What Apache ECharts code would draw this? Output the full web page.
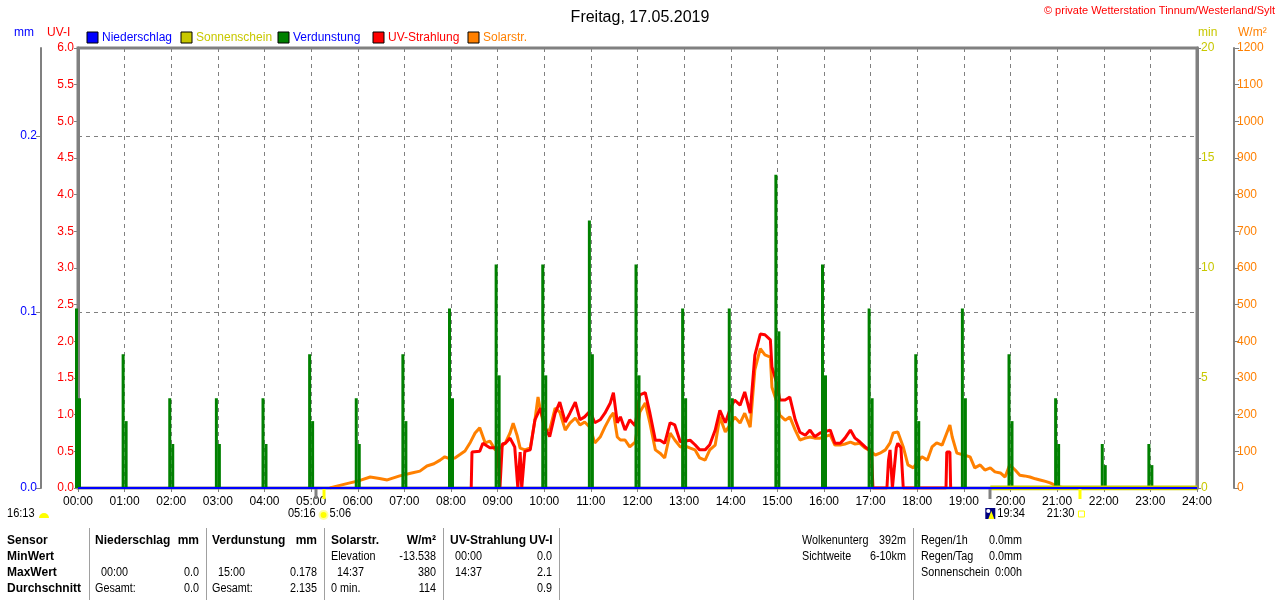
<!DOCTYPE html>
<html lang="de">
<head>
<meta charset="UTF-8">
<title>Wetterstation Tinnum - 17.05.2019</title>
<script src="https://cdn.jsdelivr.net/npm/echarts@6/dist/echarts.min.js"></script>
<style>html,body{margin:0;padding:0;background:#fff;}</style>
</head>
<body>
<div id="main" style="width:1280px;height:600px;"></div>
<script type="text/javascript">
// Daten (Zeit in Minuten seit 00:00)
var hourLabels = ['00:00','01:00','02:00','03:00','04:00','05:00','06:00','07:00','08:00','09:00','10:00','11:00',
    '12:00','13:00','14:00','15:00','16:00','17:00','18:00','19:00','20:00','21:00','22:00','23:00','24:00'];

var evapTimes = [0,60,120,180,240,300,360,420,480,540,600,660,720,780,840,900,960,1020,1080,1140,1200,1260,1320,1380];
// Verdunstung mm je Stunde
var evapMain = [0.102,0.076,0.051,0.051,0.051,0.076,0.051,0.076,0.102,0.127,0.127,0.152,
    0.127,0.102,0.102,0.178,0.127,0.102,0.076,0.102,0.076,0.051,0.025,0.025];
var evapHalf = [0.051,0.038,0.025,0.025,0.025,0.038,0.025,0.038,0.051,0.064,0.064,0.076,
    0.064,0.051,0.051,0.089,0.064,0.051,0.038,0.051,0.038,0.025,0.013,0.013];

// Solarstrahlung W/m2
var solarData = [[324,0],[333,5],[350,14],[362,20],[376,30],[388,26],[398,22],[414,33],[428,40],[440,46],
    [449,60],[458,66],[466,76],[472,85],[478,80],[485,82],[492,92],[498,101],[505,125],[511,150],[517,164],
    [524,123],[530,128],[537,104],[543,109],[550,123],[556,150],[560,177],[565,144],[569,109],[575,104],
    [582,109],[588,185],[592,248],[595,213],[601,158],[607,158],[614,218],[620,207],[627,158],[633,177],
    [640,191],[646,172],[652,180],[659,165],[665,123],[672,139],[678,166],[685,194],[689,205],[694,139],
    [698,131],[704,131],[710,112],[717,125],[723,207],[730,232],[736,177],[743,104],[749,95],[755,82],
    [762,150],[768,131],[775,112],[781,115],[788,109],[794,104],[800,82],[807,76],[813,104],[820,117],
    [826,194],[833,153],[840,175],[845,194],[852,177],[858,204],[865,166],[871,322],[878,380],[884,363],
    [891,357],[893,275],[900,230],[903,199],[910,185],[916,194],[923,158],[929,131],[936,136],[942,139],
    [948,136],[955,136],[961,140],[968,145],[974,117],[981,117],[987,120],[994,125],[1000,120],[1006,122],
    [1013,109],[1020,100],[1026,90],[1032,95],[1039,104],[1045,123],[1049,150],[1055,153],[1062,112],
    [1068,63],[1075,55],[1080,70],[1086,85],[1093,76],[1099,112],[1105,123],[1112,117],[1118,150],
    [1122,172],[1125,139],[1131,95],[1140,90],[1148,85],[1154,55],[1161,63],[1167,49],[1174,55],[1180,44],
    [1187,41],[1193,30],[1199,63],[1206,49],[1212,35],[1218,33],[1225,30],[1232,25],[1238,22],[1245,18],
    [1251,14],[1257,8],[1264,3],[1270,0]];

// UV-Strahlung UV-I
var uvData = [[506,0],[507,0.49],[517,0.5],[521,0.61],[530,0.55],[540,0.55],[543,0],[546,0.6],[550,0.61],
    [556,0.68],[562,0.56],[566,0],[569,0.49],[571,0],[575,0.5],[582,0.52],[588,0.93],[595,1.09],[601,0.82],
    [607,0.7],[614,1.02],[620,1.17],[627,0.9],[633,1.02],[640,1.17],[646,0.93],[652,0.97],[659,1.05],
    [665,0.89],[672,0.93],[678,1.02],[685,1.16],[689,1.3],[694,0.89],[698,0.97],[704,0.79],[710,0.93],
    [717,0.85],[723,1.27],[730,1.3],[736,1.02],[743,0.65],[749,0.65],[755,0.61],[762,0.89],[768,0.86],
    [775,0.63],[788,0.65],[794,0.59],[800,0.52],[807,0.52],[813,0.59],[820,0.79],[826,1.06],[833,0.89],
    [840,1.1],[845,1.2],[852,1.13],[858,1.31],[865,1.02],[871,1.81],[878,2.1],[884,2.09],[891,2.02],
    [893,1.65],[900,1.4],[903,1.2],[910,1.2],[916,1.24],[923,0.93],[929,0.76],[936,0.72],[942,0.79],
    [948,0.7],[955,0.75],[968,0.79],[974,0.61],[981,0.61],[987,0.68],[994,0.79],[1000,0.68],[1006,0.63],
    [1013,0.56],[1021,0.5],[1023,0],[1041,0],[1043,0.38],[1045,0.52],[1048,0],[1050,0],[1053,0.55],
    [1055,0.61],[1059,0.55],[1062,0],[1117,0],[1118,0.49],[1122,0.49],[1123,0]];

var rainData = [[0,0],[1440,0]];
var sunData = [[1174,0],[1440,0]];

// Sonnenauf-/untergang
var sunMarks = [
    {m: 306, color: '#808080'},
    {m: 316, color: '#ffff00'},
    {m: 1174, color: '#808080'},
    {m: 1290, color: '#ffff00'}
];

var legendNames = ['Niederschlag','Sonnenschein','Verdunstung','UV-Strahlung','Solarstr.'];
var legendColors = ['#0000ff','#c8c800','#008000','#ff0000','#ff8000'];
var legendTextColors = ['#0000ff','#c8c800','#0000ff','#ff0000','#ff8000'];

// Tabelle unten: [x, y, text, align, bold]
var tableCells = [
    [7,541,'Sensor','left',1],[95,541,'Niederschlag','left',1],[199,541,'mm','right',1],
    [212,541,'Verdunstung','left',1],[317,541,'mm','right',1],[331,541,'Solarstr.','left',1],
    [436,541,'W/m²','right',1],[450,541,'UV-Strahlung UV-I','left',1],
    [7,557,'MinWert','left',1],[331,557,'Elevation','left',0],[436,557,'-13.538','right',0],
    [455,557,'00:00','left',0],[552,557,'0.0','right',0],
    [7,573,'MaxWert','left',1],[101,573,'00:00','left',0],[199,573,'0.0','right',0],
    [218,573,'15:00','left',0],[317,573,'0.178','right',0],[337,573,'14:37','left',0],
    [436,573,'380','right',0],[455,573,'14:37','left',0],[552,573,'2.1','right',0],
    [7,589,'Durchschnitt','left',1],[95,589,'Gesamt:','left',0],[199,589,'0.0','right',0],
    [212,589,'Gesamt:','left',0],[317,589,'2.135','right',0],[331,589,'0 min.','left',0],
    [436,589,'114','right',0],[552,589,'0.9','right',0],
    [802,541,'Wolkenunterg','left',0],[906,541,'392m','right',0],
    [802,557,'Sichtweite','left',0],[906,557,'6-10km','right',0],
    [921,541,'Regen/1h','left',0],[1022,541,'0.0mm','right',0],
    [921,557,'Regen/Tag','left',0],[1022,557,'0.0mm','right',0],
    [921,573,'Sonnenschein','left',0],[1022,573,'0:00h','right',0]
];
var tableSeps = [89,206,324,443,559,913];

var FONT = '"Liberation Sans", Arial, sans-serif';
var LBL = 11;

var myChart = echarts.init(document.getElementById('main'));

var option = {
    animation: false,
    backgroundColor: '#ffffff',
    title: {
        text: 'Freitag, 17.05.2019',
        left: 'center',
        top: 5,
        textStyle: {fontSize: 16, fontWeight: 'normal', color: '#000', fontFamily: FONT}
    },
    grid: {
        left: 78, right: 83, top: 48, bottom: 112,
        show: true, borderColor: '#808080', borderWidth: 3, backgroundColor: '#fff'
    },
    xAxis: {
        type: 'value', min: 0, max: 1440, interval: 60,
        axisLine: {show: false},
        axisTick: {show: true, length: 4, lineStyle: {color: '#808080'}},
        axisLabel: {
            color: '#000', fontSize: 12, fontFamily: FONT, margin: 8,
            formatter: function (v) { return hourLabels[Math.round(v / 60)]; }
        },
        splitLine: {show: true, lineStyle: {color: '#808080', type: [4, 4], width: 1}}
    },
    yAxis: [
        {   // UV-I
            type: 'value', position: 'left', min: 0, max: 6, interval: 0.5,
            axisLine: {show: true, lineStyle: {color: '#808080', width: 3}},
            axisTick: {show: true, length: 4, lineStyle: {color: '#808080'}},
            axisLabel: {color: '#ff0000', fontSize: LBL + 1, fontFamily: FONT, margin: 4,
                formatter: function (v) { return v.toFixed(1); }},
            splitLine: {show: false}
        },
        {   // mm
            type: 'value', position: 'left', offset: 37, min: 0, max: 0.25, interval: 0.1,
            axisLine: {show: true, lineStyle: {color: '#808080', width: 2}},
            axisTick: {show: true, length: 5, lineStyle: {color: '#808080'}},
            axisLabel: {color: '#0000ff', fontSize: LBL + 1, fontFamily: FONT, margin: 4, showMaxLabel: false,
                formatter: function (v) { return v.toFixed(1); }},
            splitLine: {show: true, lineStyle: {color: '#808080', type: [4, 4], width: 1}}
        },
        {   // min
            type: 'value', position: 'right', min: 0, max: 20, interval: 5,
            axisLine: {show: true, lineStyle: {color: '#808080', width: 3}},
            axisTick: {show: true, length: 4, lineStyle: {color: '#808080'}},
            axisLabel: {color: '#c8c800', fontSize: LBL + 1, fontFamily: FONT, margin: 4},
            splitLine: {show: false}
        },
        {   // W/m2
            type: 'value', position: 'right', offset: 37, min: 0, max: 1200, interval: 100,
            axisLine: {show: true, lineStyle: {color: '#808080', width: 2}},
            axisTick: {show: true, length: 5, lineStyle: {color: '#808080'}},
            axisLabel: {color: '#ff8000', fontSize: LBL + 1, fontFamily: FONT, margin: 3,
                formatter: function (v) { return String(v); }},
            splitLine: {show: false}
        }
    ],
    series: [
        {
            name: 'Solarstr.', type: 'line', yAxisIndex: 3, data: solarData,
            symbol: 'none', lineStyle: {color: '#ff8000', width: 3}, z: 2
        },
        {
            name: 'UV-Strahlung', type: 'line', yAxisIndex: 0, data: uvData,
            symbol: 'none', lineStyle: {color: '#ff0000', width: 3}, z: 3
        },
        {
            name: 'Verdunstung', type: 'bar', yAxisIndex: 1, barWidth: 3, barGap: '0%',
            data: evapTimes.map(function (m, i) { return [m, evapMain[i]]; }),
            itemStyle: {color: '#008000'}, z: 4
        },
        {
            name: 'Verdunstung ½', type: 'bar', yAxisIndex: 1, barWidth: 3, barGap: '0%',
            data: evapTimes.map(function (m, i) { return [m, evapHalf[i]]; }),
            itemStyle: {color: '#008000'}, z: 4
        },
        {
            name: 'Sonnenschein', type: 'line', yAxisIndex: 2, data: sunData,
            symbol: 'none', lineStyle: {color: '#c8c800', width: 5}, z: 5
        },
        {
            name: 'Niederschlag', type: 'line', yAxisIndex: 1, data: rainData,
            symbol: 'none', lineStyle: {color: '#0000ff', width: 2}, z: 6
        }
    ]
};

myChart.setOption(option);

// Zusatzelemente: Legende, Achsentitel, Marker, Tabelle
var g = [];
function txt(x, y, s, color, align, font, sx) {
    g.push({type: 'text', z: 100, x: x, y: y, scaleX: sx || 1,
        style: {x: 0, y: 0, text: s, fill: color || '#000',
        font: font || ('12px ' + FONT), textAlign: align || 'left', textVerticalAlign: 'middle'}});
}
function line(x1, y1, x2, y2, color, w) {
    g.push({type: 'line', z: 100, shape: {x1: x1, y1: y1, x2: x2, y2: y2},
        style: {stroke: color, lineWidth: w || 1}});
}

txt(1275, 11, '© private Wetterstation Tinnum/Westerland/Sylt', '#ff0000', 'right', '11px ' + FONT);
txt(14, 33, 'mm', '#0000ff');
txt(47, 33, 'UV-I', '#ff0000');
txt(1198, 33, 'min', '#c8c800');
txt(1238, 33, 'W/m²', '#ff8000');

var legendX = [87, 181, 278, 373, 468];
legendNames.forEach(function (n, i) {
    g.push({type: 'rect', z: 100, shape: {x: legendX[i], y: 32, width: 11, height: 11},
        style: {fill: legendColors[i], stroke: '#000', lineWidth: 1}});
    txt(legendX[i] + 15, 38, n, legendTextColors[i]);
});

// Marker unter der Zeitachse
var y0 = myChart.convertToPixel({yAxisIndex: 0}, 0);
sunMarks.forEach(function (s) {
    var px = Math.round(myChart.convertToPixel({xAxisIndex: 0}, s.m));
    line(px, y0 + 1, px, y0 + 11, s.color, 3);
});
var pSr = myChart.convertToPixel({xAxisIndex: 0}, 316);
var pSs = myChart.convertToPixel({xAxisIndex: 0}, 1174);
var pSe = myChart.convertToPixel({xAxisIndex: 0}, 1290);
txt(7, 514, '16:13', '#000', 'left', null, 0.92);
g.push({type: 'sector', z: 100, shape: {cx: 44, cy: 518, r: 5, r0: 0, startAngle: Math.PI, endAngle: Math.PI * 2},
    style: {fill: '#ffff00'}});
txt(pSr - 8, 514, '05:16', '#000', 'right', null, 0.92);
g.push({type: 'circle', z: 100, shape: {cx: pSr, cy: 515, r: 4}, style: {fill: '#ffff00', stroke: '#ffffa0', lineWidth: 2}});
txt(pSr + 6, 514, '5:06', '#000', 'left', null, 0.92);
g.push({type: 'rect', z: 100, shape: {x: pSs - 5, y: 508, width: 10, height: 11}, style: {fill: '#000080'}});
g.push({type: 'circle', z: 101, shape: {cx: pSs - 2, cy: 511, r: 2}, style: {fill: '#ffffff'}});
g.push({type: 'polygon', z: 101, shape: {points: [[pSs + 1, 511], [pSs + 4, 519], [pSs - 2, 519]]}, style: {fill: '#ffff00'}});
txt(pSs + 7, 514, '19:34', '#000', 'left', null, 0.92);
txt(pSe - 6, 514, '21:30', '#000', 'right', null, 0.92);
g.push({type: 'rect', z: 100, shape: {x: pSe - 2, y: 511, width: 6, height: 6}, style: {fill: '#fff', stroke: '#ffff00', lineWidth: 1}});

// Tabelle
tableSeps.forEach(function (x) { line(x + 0.5, 528, x + 0.5, 600, '#a0a0a0', 1); });
tableCells.forEach(function (c) {
    txt(c[0], c[1], c[2], '#000', c[3], (c[4] ? 'bold ' : '') + '12px ' + FONT, c[4] ? 1 : 0.9);
});

myChart.setOption({graphic: g});
</script>
</body>
</html>
